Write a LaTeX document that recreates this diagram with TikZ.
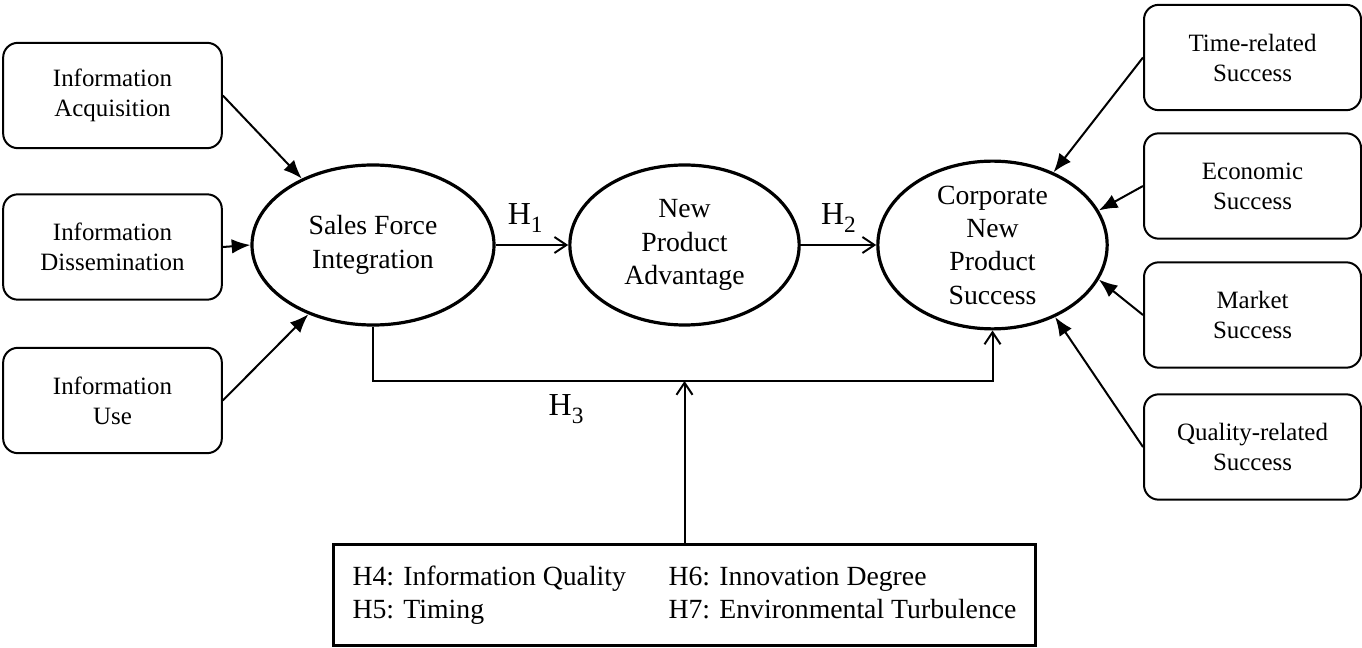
\documentclass[tikz,border=0pt]{standalone}
\usepackage{fontspec}
\setmainfont{Liberation Serif}
\usetikzlibrary{arrows.meta,shapes.geometric}

\newcommand\hyp[1]{H\raisebox{-6pt}{\fontsize{17.5}{17.5}\selectfont #1}}

\begin{document}
\begin{tikzpicture}[x=0.75pt,y=-0.75pt,line width=1.5pt,
    >={Straight Barb[length=9pt,width=12pt]}]
    \tikzstyle{side box}=[draw,rounded corners=11pt,minimum width=164pt,minimum height=79pt,align=center,font=\fontsize{18.7}{22.5}\selectfont]
    \tikzstyle{construct}=[draw,ellipse,line width=2.4pt,inner sep=0pt,minimum width=172pt,minimum height=120pt,align=center,font=\fontsize{20.8}{25}\selectfont]
    \tikzstyle{feed}=[-{Latex[length=14pt,width=11pt]}]
    \tikzstyle{hyp label}=[font=\fontsize{24}{24}\selectfont]

    \useasboundingbox (0,0) rectangle (1362,648);

    % Draw the market information boxes
    \foreach \name / \y / \txt in {acq/95.5/{Information\\Acquisition},
                                   diss/247/{Information\\Dissemination},
                                   use/400.5/{Information\\Use}}
        \node[side box] (\name) at (112.5,\y) {\txt};

    % Draw the three constructs
    \node[construct,minimum width=181.5pt] (sfi) at (373,245) {Sales Force\\Integration};
    \node[construct] (npa) at (684.5,245) {New\\Product\\Advantage};
    \node[construct] (cnps) at (992.5,245) {Corporate\\New\\Product\\Success};

    % Draw the success dimensions
    \foreach \name / \y / \txt in {time/57.5/{Time-related\\Success},
                                   econ/186/{Economic\\Success},
                                   market/315/{Market\\Success},
                                   quality/447/{Quality-related\\Success}}
        \node[side box,minimum width=162.75pt] (\name) at (1252.5,\y) {\txt};

    % Moderators
    \node[draw,line width=2.4pt,minimum width=526pt,minimum height=76pt,
        font=\fontsize{20.8}{25}\selectfont] (mods) at (684.5,595)
        {\begin{tabular}{@{}p{237pt}@{}l@{}}
            H4: Information Quality & H6: Innovation Degree\\
            H5: Timing & H7: Environmental Turbulence
        \end{tabular}};

    % Information processing feeds the integration
    \draw[feed] (acq.east) -- (sfi.137);
    \draw[feed] (diss.east) -- (sfi.west);
    \draw[feed] (use.east) -- (sfi.-133);

    % Success dimensions point into the outcome
    \draw[feed] (time.west) -- (cnps.50);
    \draw[feed] (econ.west) -- (cnps.18);
    \draw[feed] (market.west) -- (cnps.-18);
    \draw[feed] (quality.west) -- (cnps.-49);

    % Hypotheses H1 to H3
    \draw[->] (sfi) -- node[hyp label,above=5pt,xshift=-5pt] {\hyp{1}} (npa);
    \draw[->] (npa) -- node[hyp label,above=5pt] {\hyp{2}} (cnps);

    \coordinate (joint) at (684.5,381);
    \draw[->] (sfi.south) |- node[hyp label,pos=0.81,below=6pt] {\hyp{3}} (joint) -| (cnps.south);
    \draw[->] (mods) -- (joint);

\end{tikzpicture}
\end{document}
